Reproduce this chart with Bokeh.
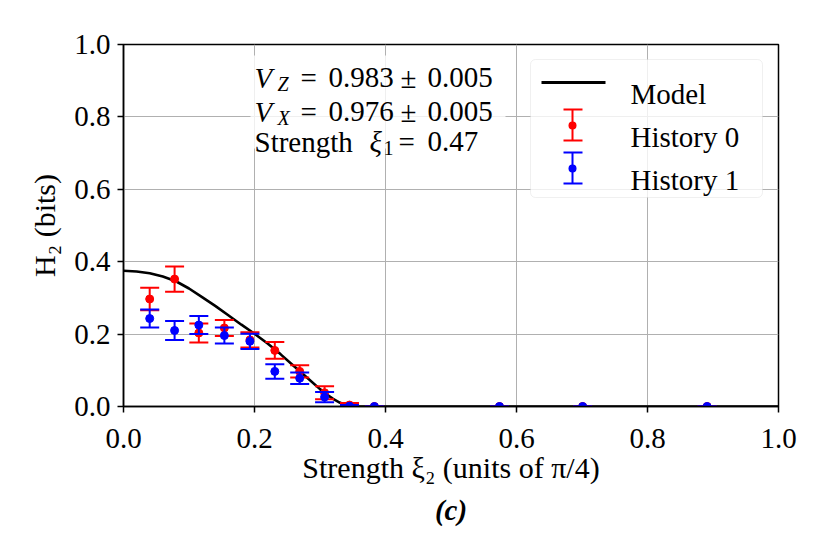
import numpy as np
from bokeh.plotting import figure
from bokeh.models import (FixedTicker, PrintfTickFormatter, Title, Label,
                          BoxAnnotation, ColumnDataSource)
from bokeh.embed import file_html
from bokeh.resources import INLINE

# ---------------- data ----------------
xi2 = [0.040, 0.078, 0.115, 0.154, 0.193, 0.231, 0.269, 0.307, 0.345,
       0.383, 0.574, 0.701, 0.891]
h_hist0 = [0.297, 0.352, 0.203, 0.217, 0.184, 0.155, 0.097, 0.038, 0.004,
           0.0, 0.0, 0.0, 0.0]
err_hist0 = [0.031, 0.035, 0.026, 0.022, 0.021, 0.023, 0.017, 0.018, 0.006,
             0.0, 0.0, 0.0, 0.0]
h_hist1 = [0.243, 0.210, 0.225, 0.196, 0.180, 0.097, 0.078, 0.026, 0.001,
           0.0, 0.0, 0.0, 0.0]
err_hist1 = [0.025, 0.026, 0.025, 0.022, 0.021, 0.020, 0.016, 0.014, 0.003,
             0.0, 0.0, 0.0, 0.0]

model_x = [0.0, 0.02, 0.04, 0.06, 0.08, 0.10, 0.12, 0.14, 0.16, 0.18, 0.20,
           0.22, 0.24, 0.26, 0.28, 0.30, 0.31, 0.32, 0.33, 0.34, 0.347, 1.0]
model_y = [0.375, 0.373, 0.368, 0.359, 0.346, 0.326, 0.302, 0.278, 0.252,
           0.226, 0.201, 0.174, 0.144, 0.112, 0.080, 0.048, 0.034, 0.021,
           0.011, 0.003, 0.0, 0.0]

tick_values = [0.0, 0.2, 0.4, 0.6, 0.8, 1.0]
legend_labels = ["Model", "History 0", "History 1"]
vz_value, vz_err = "0.983", "0.005"
vx_value, vx_err = "0.976", "0.005"
xi1_value = "0.47"

FONT = "Liberation Serif"
RED = "#ff0000"
BLUE = "#0000ff"

p = figure(width=814, height=538, x_range=(0, 1), y_range=(0, 1),
           output_backend="svg", toolbar_location=None,
           min_border_left=123, min_border_right=36,
           min_border_top=44, min_border_bottom=132,
           background_fill_color="white", border_fill_color="white")
p.outline_line_color = "black"
p.outline_line_width = 1.5

for ax in (p.xaxis[0], p.yaxis[0]):
    ax.ticker = FixedTicker(ticks=tick_values)
    ax.formatter = PrintfTickFormatter(format="%.1f")
    ax.major_label_text_font = FONT
    ax.major_label_text_font_size = "29px"
    ax.major_label_text_color = "black"
    ax.axis_label_text_font = FONT
    ax.axis_label_text_font_size = "30px"
    ax.axis_label_text_font_style = "normal"
    ax.axis_label_text_color = "black"
    ax.axis_line_width = 1.5
    ax.axis_line_color = "black"
    ax.major_tick_line_width = 1.5
    ax.major_tick_line_color = "black"
    ax.major_tick_out = 6
    ax.major_tick_in = 0
    ax.minor_tick_line_color = None

p.xaxis.major_label_standoff = 16
p.yaxis.major_label_standoff = 7
p.xaxis.axis_label = "Strength ξ₂ (units of π/4)"
p.yaxis.axis_label = "H₂ (bits)"
p.xaxis.axis_label_standoff = 0
p.yaxis.axis_label_standoff = 10

p.xgrid.grid_line_color = "#b0b0b0"
p.ygrid.grid_line_color = "#b0b0b0"
p.xgrid.grid_line_width = 1
p.ygrid.grid_line_width = 1
p.xgrid.ticker = FixedTicker(ticks=tick_values)
p.ygrid.ticker = FixedTicker(ticks=tick_values)

# model curve
p.line(model_x, model_y, line_color="black", line_width=2.6)

# error-bar series
def errorbars(x, y, e, color):
    x = np.array(x); y = np.array(y); e = np.array(e)
    src = ColumnDataSource(dict(x=x, y=y, lo=y - e, hi=y + e))
    p.segment(x0="x", y0="lo", x1="x", y1="hi", source=src,
              line_color=color, line_width=2)
    p.scatter("x", "hi", source=src, marker="dash", size=19,
              line_color=color, line_width=2)
    p.scatter("x", "lo", source=src, marker="dash", size=19,
              line_color=color, line_width=2)
    p.scatter("x", "y", source=src, marker="circle", size=8,
              fill_color=color, line_color=color)

errorbars(xi2, h_hist0, err_hist0, RED)
errorbars(xi2, h_hist1, err_hist1, BLUE)

# ---------------- annotations (canvas pixel units) ----------------
def box(l, r, t, b, color, alpha=1.0, line_color=None, radius=0):
    p.add_layout(BoxAnnotation(left=l, right=r, top=t, bottom=b,
                               left_units="canvas", right_units="canvas",
                               top_units="canvas", bottom_units="canvas",
                               fill_color=color, fill_alpha=alpha,
                               line_color=line_color, line_width=1,
                               border_radius=radius, level="annotation"))

def label(x, y, text, size="29px", style="normal"):
    p.add_layout(Label(x=x, y=y, x_units="canvas", y_units="canvas",
                       text=text, text_font=FONT, text_font_size=size,
                       text_font_style=style, text_color="black",
                       text_baseline="alphabetic", text_align="left"))

# text box
box(250, 505, 55, 148, "white", alpha=0.8)
label(254, 77, "V", style="italic")
label(277, 83, "Z", size="20px", style="italic")
label(300, 77, "=")
label(328, 77, vz_value)
label(400, 77, "±")
label(427, 77, vz_err)
label(254, 111, "V", style="italic")
label(277, 117, "X", size="20px", style="italic")
label(300, 111, "=")
label(328, 111, vx_value)
label(400, 111, "±")
label(427, 111, vx_err)
label(254, 141, "Strength")
label(369, 141, "ξ", style="italic")
label(383, 147, "1", size="20px")
label(398, 141, "=")
label(427, 141, xi1_value)

# legend
box(530, 762, 59, 197, "white", alpha=0.8, line_color="#cccccc", radius=5)
box(541, 605, 80.5, 83.5, "black")
for (cy, color) in ((125, RED), (168, BLUE)):
    box(571, 573, cy - 16, cy + 15, color)
    box(563, 582, cy - 17, cy - 15, color)
    box(563, 582, cy + 14, cy + 16, color)
    box(568, 576, cy - 4, cy + 4, color, radius=4)
label(630, 93, legend_labels[0])
label(630, 136, legend_labels[1])
label(630, 179, legend_labels[2])

p.add_layout(Title(text="(c)", align="center", text_font=FONT,
                   text_font_size="29px", text_font_style="bold italic",
                   text_color="black"), "below")

open("out.html", "w").write(file_html(p, INLINE))
